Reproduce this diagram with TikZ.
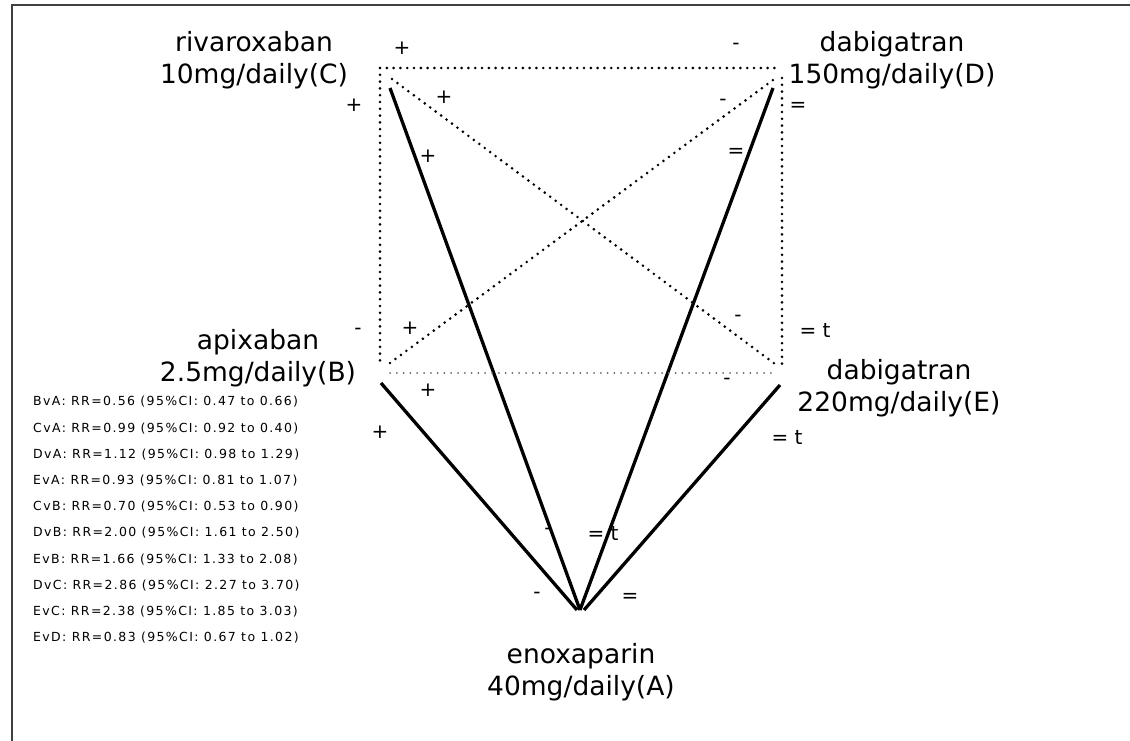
\documentclass[tikz,border=0pt]{standalone}
\usepackage{fontspec}
\setmainfont{DejaVu Sans}
\newfontfamily\ratiofont[LetterSpace=11]{DejaVu Sans}
\begin{document}
\begin{tikzpicture}[
  x=1pt, y=-1pt,
  drug/.style={align=center, font=\fontsize{26.5}{32}\selectfont, inner sep=0pt},
  sign/.style={font=\fontsize{20}{22}\selectfont, inner sep=0pt},
  ratio/.style={anchor=west, font=\ratiofont\fontsize{12.5}{14}\selectfont, inner sep=0pt},
  direct/.style={line width=3.3pt},
  indirect/.style={line width=2.9pt, line cap=round, dash pattern=on 0pt off 6.8pt},
  frame/.style={draw=black!75, line width=2pt}
]
\useasboundingbox (0,0) rectangle (1130,741);
\draw[frame] (12,741) -- (12,5) -- (1130,5);

% drug labels
\node[drug] (C) at (254,60) {rivaroxaban\\10mg/daily(C)};
\node[drug] (D) at (892,60) {dabigatran\\150mg/daily(D)};
\node[drug] (B) at (258,358) {apixaban\\2.5mg/daily(B)};
\node[drug] (E) at (899,388) {dabigatran\\220mg/daily(E)};
\node[drug] (A) at (581,672) {enoxaparin\\40mg/daily(A)};

% line ends
\coordinate (a) at (580,610);
\coordinate (c1) at (390,88);
\coordinate (d1) at (773,88);
\coordinate (b1) at (381,383);
\coordinate (e1) at (780,385);

% direct comparisons
\draw[direct] (c1) -- (a);
\draw[direct] (d1) -- (a);
\draw[direct] (b1) -- ([xshift=-3pt]a);
\draw[direct] (e1) -- ([xshift=4pt]a);

% indirect comparisons
\coordinate (ctl) at (380,68);
\coordinate (ctr) at (777,68);
\coordinate (cbl) at (380,362);
\coordinate (crt) at (782,78);
\coordinate (crb) at (782,368);
\coordinate (cbl2) at (390,373);
\coordinate (cbr) at (772,373);
\draw[indirect] (ctl) -- (ctr);
\draw[indirect] (ctl) -- (cbl);
\draw[indirect] (crt) -- (crb);
\draw[indirect, line width=2pt, black!60] (cbl2) -- (cbr);
\draw[indirect] (392,79) coordinate (ce1) -- (775,364) coordinate (ce2);
\draw[indirect] (390,363) coordinate (bd1) -- (773,80) coordinate (bd2);

% signs
\node[sign] (s1) at (402,48) {+};
\node[sign] (s2) at (354,105) {+};
\node[sign] (s3) at (444,97) {+};
\node[sign] (s4) at (428,156) {+};
\node[sign] (s5) at (736,46) {-};
\node[sign] (s6) at (723,102) {-};
\node[sign] (s7) at (798,107) {=};
\node[sign] (s8) at (736,153) {=};
\node[sign] (s9) at (358,331) {-};
\node[sign] (s10) at (410,328) {+};
\node[sign] (s11) at (428,390) {+};
\node[sign] (s12) at (380,432) {+};
\node[sign] (s13) at (738,318) {-};
\node[sign] (s14) at (815,330) {= t};
\node[sign] (s15) at (727,381) {-};
\node[sign] (s16) at (787,437) {= t};
\node[sign] (s17) at (548,531) {-};
\node[sign] (s18) at (603,533) {= t};
\node[sign] (s19) at (537,595) {-};
\node[sign] (s20) at (630,598) {=};

% relative risks
\foreach \txt [count=\i from 0] in {
  BvA: RR=0.56 (95\%CI: 0.47 to 0.66),
  CvA: RR=0.99 (95\%CI: 0.92 to 0.40),
  DvA: RR=1.12 (95\%CI: 0.98 to 1.29),
  EvA: RR=0.93 (95\%CI: 0.81 to 1.07),
  CvB: RR=0.70 (95\%CI: 0.53 to 0.90),
  DvB: RR=2.00 (95\%CI: 1.61 to 2.50),
  EvB: RR=1.66 (95\%CI: 1.33 to 2.08),
  DvC: RR=2.86 (95\%CI: 2.27 to 3.70),
  EvC: RR=2.38 (95\%CI: 1.85 to 3.03),
  EvD: RR=0.83 (95\%CI: 0.67 to 1.02)}
  \node[ratio] (rr\i) at (33,402+26.2*\i) {\txt};
\end{tikzpicture}
\end{document}
